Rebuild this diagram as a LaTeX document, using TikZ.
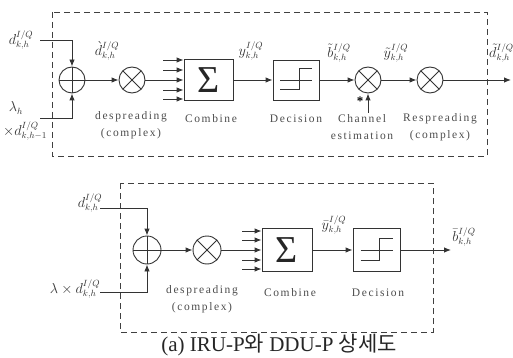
\documentclass[tikz,border=0pt]{standalone}
\usepackage{fontspec}
\setmainfont{Liberation Serif}
\newfontfamily\spaced[LetterSpace=14]{Liberation Serif}
\newfontfamily\kr{Noto Sans CJK KR}
\usetikzlibrary{arrows.meta,calc}
\begin{document}
\begin{tikzpicture}[x=1pt,y=-1pt,
  ln/.style={draw=black!80, line width=0.9pt},
  arr/.style={ln, -{Latex[length=7pt,width=5.5pt]}},
  sumc/.style={circle, ln, minimum size=#1, inner sep=0pt,
    path picture={\draw[black!80,line width=0.9pt] (path picture bounding box.north) -- (path picture bounding box.south)
      (path picture bounding box.west) -- (path picture bounding box.east);}},
  mulc/.style={circle, ln, minimum size=#1, inner sep=0pt,
    path picture={\draw[black!80,line width=0.9pt] (path picture bounding box.north west) -- (path picture bounding box.south east)
      (path picture bounding box.south west) -- (path picture bounding box.north east);}},
  blk/.style={rectangle, ln, inner sep=0pt},
  frame/.style={draw=black!75, line width=0.9pt, dash pattern=on 6pt off 4pt},
  lbl/.style={font=\spaced\fontsize{11.5}{16.5}\selectfont, align=center, text=black!70},
  mlab/.style={font=\fontsize{13.5}{15}\selectfont, text=black!80, inner sep=0pt},
  sig/.style={font=\fontsize{38}{38}\selectfont, text=black!85}
]
\useasboundingbox (0,0) rectangle (513,358);

% ---------------- top diagram ----------------
\draw[frame] (52,12) rectangle (487,156);
\node[sumc=26pt] (s1) at (72,80) {};
\node[mulc=26pt] (m1) at (132,80) {};
\node[blk, minimum width=49pt, minimum height=41pt, sig] (c1) at (208.5,80) {Σ};
\node[blk, minimum width=46pt, minimum height=40pt] (d1) at (296,80) {};
\draw[ln] ($(d1.center)+(-16,0)$) -- ($(d1.center)+(16,0)$);
\draw[ln] ($(d1.center)+(-16,9)$) -- ($(d1.center)+(3,9)$) -- ($(d1.center)+(3,-12)$) -- ($(d1.center)+(16,-12)$);
\node[mulc=26pt] (m2) at (368,80) {};
\node[mulc=26pt] (m3) at (430,80) {};

\coordinate (i1) at (40,40);
\coordinate (i2) at (40,118);
\draw[arr] (i1) -| (s1.north);
\draw[arr] (i2) -| (s1.south);
\draw[arr] (s1) -- (m1);
\coordinate (f1) at (163,80);
\draw[ln] (m1) -- (f1);
\foreach \yy in {60,70,80,90,99}{
  \coordinate (t) at (0,\yy);
  \draw[arr] (f1 |- t) -- (c1.west |- t);
}
\draw[arr] (c1) -- (d1);
\draw[arr] (d1) -- (m2);
\draw[arr] (m2) -- (m3);
\coordinate (o1) at (511,80);
\draw[arr] (m3) -- (o1);
\coordinate (ce) at (368,113);
\draw[arr] (ce) -- (m2.south);
\node[font=\bfseries\fontsize{13}{13}\selectfont, inner sep=0pt] (star) at (360,101) {*};

\node[mlab] (l1) at (21,40) {$d^{I/Q}_{k,h}$};
\node[mlab] (l2) at (16,108) {$\lambda_h$};
\node[mlab] (l3) at (25,131) {$\times d^{I/Q}_{k,h-1}$};
\node[mlab] (l4) at (107,51) {$\grave{d}^{I/Q}_{k,h}$};
\node[mlab] (l5) at (251,51) {$y^{I/Q}_{k,h}$};
\node[mlab] (l6) at (339,53) {$\tilde{b}^{I/Q}_{k,h}$};
\node[mlab] (l7) at (396,53) {$\tilde{y}^{I/Q}_{k,h}$};
\node[mlab, anchor=west] (l8) at (489,53) {$\tilde{d}^{I/Q}_{k,h}$};

\node[lbl] (t1) at (131,125) {despreading\\(complex)};
\node[lbl] (t2) at (211,119) {Combine};
\node[lbl] (t3) at (296,119) {Decision};
\node[lbl] (t4) at (362,127) {Channel\\estimation};
\node[lbl] (t5) at (440,127) {Respreading\\(complex)};

% ---------------- bottom diagram ----------------
\draw[frame] (120,183) rectangle (433,332);
\node[sumc=28pt] (s2) at (147,250) {};
\node[mulc=28pt] (m4) at (207,250) {};
\node[blk, minimum width=50pt, minimum height=43pt, sig] (c2) at (287,250) {Σ};
\node[blk, minimum width=47pt, minimum height=43pt] (d2) at (376.5,250) {};
\draw[ln] ($(d2.center)+(-16,0)$) -- ($(d2.center)+(16,0)$);
\draw[ln] ($(d2.center)+(-16,10)$) -- ($(d2.center)+(3,10)$) -- ($(d2.center)+(3,-12)$) -- ($(d2.center)+(16,-12)$);

\coordinate (i3) at (100,208);
\coordinate (i4) at (100,292);
\draw[arr] (i3) -| (s2.north);
\draw[arr] (i4) -| (s2.south);
\draw[arr] (s2) -- (m4);
\coordinate (f2) at (242,250);
\draw[ln] (m4) -- (f2);
\foreach \yy in {231,240,250,260,269}{
  \coordinate (t) at (0,\yy);
  \draw[arr] (f2 |- t) -- (c2.west |- t);
}
\draw[arr] (c2) -- (d2);
\coordinate (o2) at (451,250);
\draw[arr] (d2) -- (o2);

\node[mlab] (l9) at (90,203) {$d^{I/Q}_{k,h}$};
\node[mlab] (l10) at (75,289) {$\lambda\times d^{I/Q}_{k,h}$};
\node[mlab] (l11) at (334,225) {$\bar{y}^{I/Q}_{k,h}$};
\node[mlab] (l12) at (464,237) {$\bar{b}^{I/Q}_{k,h}$};

\node[lbl] (t6) at (202,299) {despreading\\(complex)};
\node[lbl] (t7) at (290,293) {Combine};
\node[lbl] (t8) at (378,293) {Decision};

\node[font=\fontsize{21}{24}\selectfont, text=black!85] (cap) at (279,345) {(a) IRU-P{\kr 와} DDU-P {\kr 상세도}};
\end{tikzpicture}
\end{document}
